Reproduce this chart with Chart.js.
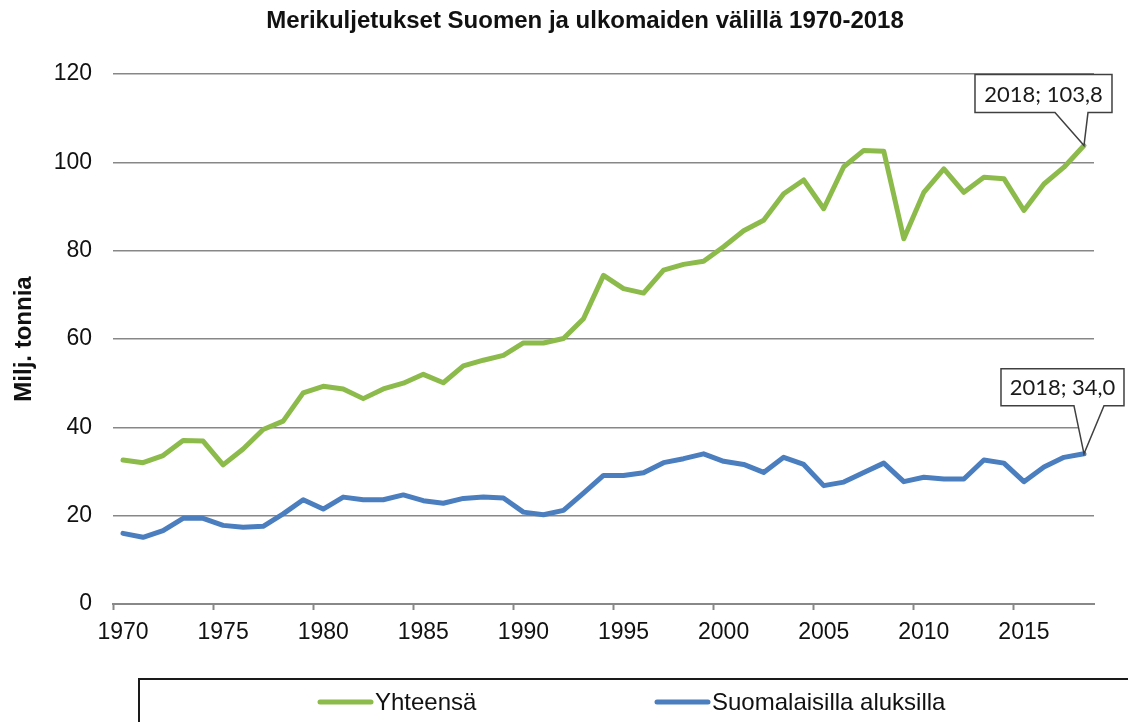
<!DOCTYPE html>
<html lang="fi">
<head>
<meta charset="utf-8">
<title>Merikuljetukset Suomen ja ulkomaiden välillä 1970-2018</title>
<script src="https://cdn.jsdelivr.net/npm/chart.js@4.4.1/dist/chart.umd.min.js"></script>
<style>
    html, body { margin: 0; padding: 0; background: #ffffff; }
    #wrap { width: 1128px; height: 722px; }
</style>
</head>
<body>
<div id="wrap"><canvas id="seaChart" width="1128" height="722"></canvas></div>
<script>
// ==========================================
// DATA
// ==========================================

const years = [
    '1970', '1971', '1972', '1973', '1974', '1975', '1976', '1977', '1978', '1979',
    '1980', '1981', '1982', '1983', '1984', '1985', '1986', '1987', '1988', '1989',
    '1990', '1991', '1992', '1993', '1994', '1995', '1996', '1997', '1998', '1999',
    '2000', '2001', '2002', '2003', '2004', '2005', '2006', '2007', '2008', '2009',
    '2010', '2011', '2012', '2013', '2014', '2015', '2016', '2017', '2018'
];

// Yhteensä (milj. tonnia)
const totalValues = [
    32.6, 32.0, 33.6, 37.0, 36.9, 31.5, 35.1, 39.5, 41.4, 47.8,
    49.3, 48.7, 46.5, 48.7, 50.0, 52.0, 50.1, 53.9, 55.2, 56.3,
    59.1, 59.1, 60.1, 64.6, 74.4, 71.4, 70.4, 75.6, 76.9, 77.6,
    80.9, 84.5, 86.9, 92.9, 96.0, 89.5, 99.0, 102.7, 102.5, 82.7,
    93.2, 98.5, 93.2, 96.6, 96.3, 89.1, 95.1, 98.9, 103.8
];

// Suomalaisilla aluksilla (milj. tonnia)
const finnishValues = [
    16.0, 15.1, 16.6, 19.4, 19.4, 17.8, 17.4, 17.6, 20.4, 23.6,
    21.5, 24.2, 23.6, 23.6, 24.7, 23.4, 22.8, 23.9, 24.2, 24.0,
    20.8, 20.2, 21.2, 25.1, 29.1, 29.1, 29.7, 32.0, 32.9, 34.0,
    32.3, 31.6, 29.8, 33.2, 31.6, 26.8, 27.6, 29.8, 31.9, 27.7,
    28.7, 28.3, 28.3, 32.6, 31.9, 27.7, 31.0, 33.2, 34.0
];

const seriesNames = ['Yhteensä', 'Suomalaisilla aluksilla'];
const seriesColors = ['#8cbb4b', '#4a7ebf'];
const yTicks = [0, 20, 40, 60, 80, 100, 120];

const chartTitle = 'Merikuljetukset Suomen ja ulkomaiden välillä 1970-2018';
const yTitle = 'Milj. tonnia';

// ==========================================
// PLUGINS (title, legend box, callouts)
// ==========================================

const FONT = "'Liberation Sans', Arial, sans-serif";

const titlePlugin = {
    id: 'customTitle',
    afterDraw: function(chart) {
        const ctx = chart.ctx;
        ctx.save();
        ctx.font = `bold 24px ${FONT}`;
        ctx.fillStyle = '#111111';
        ctx.textAlign = 'center';
        ctx.textBaseline = 'middle';
        ctx.fillText(chartTitle, 585, 21);
        ctx.restore();
    }
};

// Legend inside a framed box, like the Excel original
const legendPlugin = {
    id: 'boxedLegend',
    afterDraw: function(chart) {
        const ctx = chart.ctx;
        const itemX = [320, 657];
        const rowY = 702;

        ctx.save();
        ctx.strokeStyle = '#1a1a1a';
        ctx.lineWidth = 2;
        ctx.strokeRect(139, 679, chart.width - 139 + 20, 80);

        ctx.font = `24px ${FONT}`;
        ctx.textBaseline = 'middle';
        ctx.textAlign = 'left';
        chart.data.datasets.forEach((ds, i) => {
            ctx.strokeStyle = ds.borderColor;
            ctx.lineWidth = 5;
            ctx.lineCap = 'round';
            ctx.beginPath();
            ctx.moveTo(itemX[i], rowY);
            ctx.lineTo(itemX[i] + 51, rowY);
            ctx.stroke();
            ctx.fillStyle = '#111111';
            ctx.fillText(ds.label, itemX[i] + 55, rowY + 1);
        });
        ctx.restore();
    }
};

// Data label callouts on the last point of each series
const calloutPlugin = {
    id: 'callouts',
    afterDatasetsDraw: function(chart) {
        const ctx = chart.ctx;
        // box offsets relative to the point: left, right, top, bottom, pointer base left/right
        const shapes = [
            { l: -109, r: 28, t: -71, b: -33, p1: -29, p2: 4 },
            { l: -83, r: 40, t: -85, b: -48, p1: -10, p2: 20 }
        ];

        chart.data.datasets.forEach((ds, i) => {
            const meta = chart.getDatasetMeta(i);
            const last = meta.data[meta.data.length - 1];
            const px = last.x;
            const py = last.y;
            const s = shapes[i];
            const value = ds.data[ds.data.length - 1];
            const text = `${chart.data.labels[ds.data.length - 1]}; ${value.toFixed(1).replace('.', ',')}`;

            ctx.save();
            ctx.beginPath();
            ctx.moveTo(px + s.p1, py + s.b);
            ctx.lineTo(px, py);
            ctx.lineTo(px + s.p2, py + s.b);
            ctx.lineTo(px + s.r, py + s.b);
            ctx.lineTo(px + s.r, py + s.t);
            ctx.lineTo(px + s.l, py + s.t);
            ctx.lineTo(px + s.l, py + s.b);
            ctx.closePath();
            ctx.fillStyle = '#ffffff';
            ctx.fill();
            ctx.strokeStyle = '#404040';
            ctx.lineWidth = 1.5;
            ctx.stroke();

            ctx.font = "22px Lato, 'Open Sans', sans-serif";
            ctx.fillStyle = '#1a1a1a';
            ctx.textAlign = 'center';
            ctx.textBaseline = 'middle';
            ctx.fillText(text, px + (s.l + s.r) / 2, py + (s.t + s.b) / 2 + 1);
            ctx.restore();
        });
    }
};

// ==========================================
// CHART
// ==========================================

function initSeaChart() {
    const ctx = document.getElementById('seaChart');

    new Chart(ctx, {
        type: 'line',
        data: {
            labels: years,
            datasets: [
                {
                    label: seriesNames[0],
                    data: totalValues,
                    borderColor: seriesColors[0],
                    backgroundColor: seriesColors[0],
                    borderWidth: 5,
                    pointRadius: 0,
                    tension: 0,
                    borderJoinStyle: 'round',
                    borderCapStyle: 'round'
                },
                {
                    label: seriesNames[1],
                    data: finnishValues,
                    borderColor: seriesColors[1],
                    backgroundColor: seriesColors[1],
                    borderWidth: 5,
                    pointRadius: 0,
                    tension: 0,
                    borderJoinStyle: 'round',
                    borderCapStyle: 'round'
                }
            ]
        },
        options: {
            responsive: false,
            animation: false,
            layout: {
                padding: { top: 74, right: 34, bottom: 0, left: 0 }
            },
            plugins: {
                legend: { display: false },
                title: { display: false },
                tooltip: { enabled: false }
            },
            scales: {
                x: {
                    type: 'category',
                    offset: true,
                    afterFit: function(scale) { scale.height = 118; },
                    grid: {
                        offset: true,
                        drawOnChartArea: false,
                        drawTicks: true,
                        tickLength: 6,
                        tickWidth: 2,
                        tickColor: c => (c.index % 5 === 0 ? '#888888' : 'rgba(0,0,0,0)')
                    },
                    border: { display: true, color: '#888888', width: 2 },
                    ticks: {
                        autoSkip: false,
                        maxRotation: 0,
                        padding: 9,
                        color: '#111111',
                        font: { family: FONT, size: 23 },
                        callback: function(value, index) {
                            return index % 5 === 0 ? this.getLabelForValue(value) : '';
                        }
                    }
                },
                y: {
                    min: yTicks[0],
                    max: yTicks[yTicks.length - 1],
                    afterFit: function(scale) { scale.width = 113; },
                    afterBuildTicks: function(scale) {
                        scale.ticks = yTicks.map(v => ({ value: v }));
                    },
                    grid: {
                        color: '#878787',
                        lineWidth: 1.5,
                        drawTicks: false
                    },
                    border: { display: false },
                    ticks: {
                        padding: 21,
                        color: '#111111',
                        font: { family: FONT, size: 23 }
                    },
                    title: {
                        display: true,
                        text: yTitle,
                        color: '#111111',
                        font: { family: FONT, size: 24, weight: 'bold' },
                        padding: { top: 10, bottom: 0 }
                    }
                }
            }
        },
        plugins: [titlePlugin, calloutPlugin, legendPlugin]
    });
}

document.addEventListener('DOMContentLoaded', initSeaChart);
</script>
</body>
</html>
